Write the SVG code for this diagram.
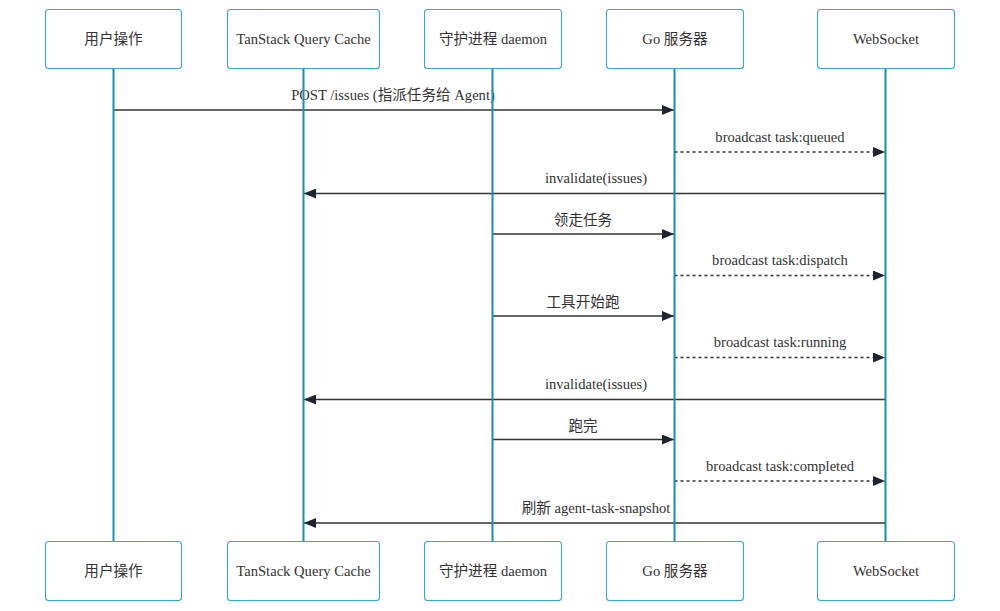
<svg xmlns="http://www.w3.org/2000/svg" width="1000" height="611" viewBox="0 0 1000 611">
<style>
.box{fill:#fff;stroke:#3aa8c4;stroke-width:1.1}
.life{stroke:#1590b0;stroke-width:2}
.lbl{font-family:"Liberation Serif","Noto Sans CJK SC",serif;font-size:14.6px;fill:#333;text-anchor:middle}
.msg{font-family:"Liberation Serif","Noto Sans CJK SC",serif;font-size:14.6px;fill:#333;text-anchor:middle}
.m{stroke:#333;stroke-width:1.5;fill:none}
.d{stroke-dasharray:3,3}
</style>
<defs>
<marker id="ah" viewBox="0 0 12 10" refX="12" refY="5" markerWidth="12" markerHeight="10" markerUnits="userSpaceOnUse" orient="auto">
<path d="M0,0 L12,5 L0,10 z" fill="#1f2430"/>
</marker>
</defs>
<rect width="1000" height="611" fill="#fff"/>
<g id="connectors">
<line class="m" x1="113.5" y1="110" x2="674" y2="110" marker-end="url(#ah)"/>
<text class="msg" x="393" y="100">POST /issues (指派任务给 Agent)</text>
<line class="m d" x1="674.5" y1="152" x2="885" y2="152" marker-end="url(#ah)"/>
<text class="msg" x="780" y="142">broadcast task:queued</text>
<line class="m" x1="885.5" y1="193.5" x2="304" y2="193.5" marker-end="url(#ah)"/>
<text class="msg" x="596" y="183">invalidate(issues)</text>
<line class="m" x1="492.5" y1="234" x2="674" y2="234" marker-end="url(#ah)"/>
<text class="msg" x="583" y="225">领走任务</text>
<line class="m d" x1="674.5" y1="275.5" x2="885" y2="275.5" marker-end="url(#ah)"/>
<text class="msg" x="780" y="265">broadcast task:dispatch</text>
<line class="m" x1="492.5" y1="316" x2="674" y2="316" marker-end="url(#ah)"/>
<text class="msg" x="583" y="307">工具开始跑</text>
<line class="m d" x1="674.5" y1="357.5" x2="885" y2="357.5" marker-end="url(#ah)"/>
<text class="msg" x="780" y="347">broadcast task:running</text>
<line class="m" x1="885.5" y1="399.5" x2="304" y2="399.5" marker-end="url(#ah)"/>
<text class="msg" x="596" y="389">invalidate(issues)</text>
<line class="m" x1="492.5" y1="439.5" x2="674" y2="439.5" marker-end="url(#ah)"/>
<text class="msg" x="583" y="431">跑完</text>
<line class="m d" x1="674.5" y1="481" x2="885" y2="481" marker-end="url(#ah)"/>
<text class="msg" x="780" y="471">broadcast task:completed</text>
<line class="m" x1="885.5" y1="523" x2="304" y2="523" marker-end="url(#ah)"/>
<text class="msg" x="596" y="513">刷新 agent-task-snapshot</text>
</g>
<g id="user">
<line class="life" x1="113.5" y1="68" x2="113.5" y2="541"/>
<rect class="box" x="45.5" y="9.5" width="136" height="59" rx="3"/>
<text class="lbl" x="113.5" y="44">用户操作</text>
<rect class="box" x="45.5" y="541.5" width="136" height="59" rx="3"/>
<text class="lbl" x="113.5" y="576">用户操作</text>
</g>
<g id="cache">
<line class="life" x1="303.5" y1="68" x2="303.5" y2="541"/>
<rect class="box" x="227.5" y="9.5" width="152" height="59" rx="3"/>
<text class="lbl" x="303.5" y="44">TanStack Query Cache</text>
<rect class="box" x="227.5" y="541.5" width="152" height="59" rx="3"/>
<text class="lbl" x="303.5" y="576">TanStack Query Cache</text>
</g>
<g id="daemon">
<line class="life" x1="492.5" y1="68" x2="492.5" y2="541"/>
<rect class="box" x="424.5" y="9.5" width="137" height="59" rx="3"/>
<text class="lbl" x="493" y="44">守护进程 daemon</text>
<rect class="box" x="424.5" y="541.5" width="137" height="59" rx="3"/>
<text class="lbl" x="493" y="576">守护进程 daemon</text>
</g>
<g id="go">
<line class="life" x1="674.5" y1="68" x2="674.5" y2="541"/>
<rect class="box" x="606.5" y="9.5" width="137" height="59" rx="3"/>
<text class="lbl" x="675" y="44">Go 服务器</text>
<rect class="box" x="606.5" y="541.5" width="137" height="59" rx="3"/>
<text class="lbl" x="675" y="576">Go 服务器</text>
</g>
<g id="ws">
<line class="life" x1="885.5" y1="68" x2="885.5" y2="541"/>
<rect class="box" x="817.5" y="9.5" width="137" height="59" rx="3"/>
<text class="lbl" x="886" y="44">WebSocket</text>
<rect class="box" x="817.5" y="541.5" width="137" height="59" rx="3"/>
<text class="lbl" x="886" y="576">WebSocket</text>
</g>
</svg>
